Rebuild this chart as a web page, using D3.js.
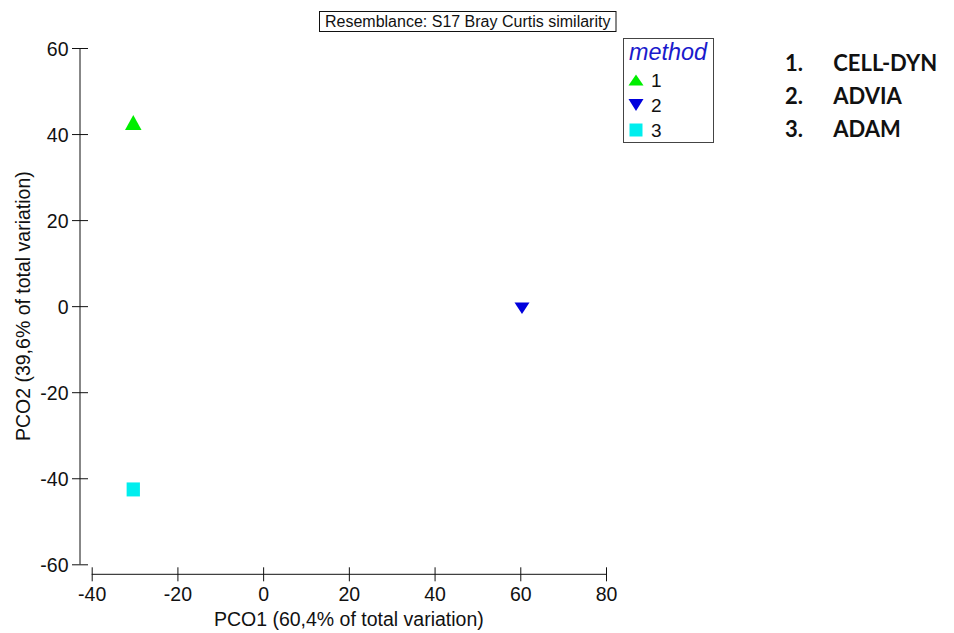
<!DOCTYPE html>
<html>
<head>
<meta charset="utf-8">
<script src="https://cdn.jsdelivr.net/npm/d3@7"></script>
<style>
  body { margin: 0; background: #fff; }
  svg { display: block; }
</style>
</head>
<body>
<script>
// data
var methods = ["1", "2", "3"];
var pco1 = [-30.3, 60.4, -30.3];
var pco2 = [42.7, -0.5, -42.6];
var methodColors = ["#00ee00", "#0000dd", "#00eeee"];
var methodShapes = ["up", "down", "square"];
var xTicks = [-40, -20, 0, 20, 40, 60, 80];
var yTicks = [-60, -40, -20, 0, 20, 40, 60];
var methodNames = ["CELL-DYN", "ADVIA", "ADAM"];

var width = 954;
var height = 633;
var font = "'Liberation Sans', Arial, sans-serif";

var svg = d3.select("body").append("svg")
    .attr("width", width)
    .attr("height", height);

//scales
var x = d3.scaleLinear().domain([-40, 80]).range([91.7, 606]);
var y = d3.scaleLinear().domain([-60, 60]).range([564.3, 48]);

// plain hyphen for negatives, like the original
var plain = function(d) { return String(d); };

// marker shapes, centred on their box
function shape(type, w, h) {
    if (type == "up") return "M0," + (-h / 2) + "L" + (w / 2) + "," + (h / 2) + "L" + (-w / 2) + "," + (h / 2) + "Z";
    if (type == "down") return "M0," + (h / 2) + "L" + (w / 2) + "," + (-h / 2) + "L" + (-w / 2) + "," + (-h / 2) + "Z";
    return "M" + (-w / 2) + "," + (-h / 2) + "h" + w + "v" + h + "h" + (-w) + "Z";
}
var markerSize = { up: [16.5, 15], down: [15, 11.6], square: [13.3, 14] };
var legendSize = { up: [15, 11], down: [15, 12], square: [13, 13] };

// y axis
var yAxis = svg.append("g")
    .attr("transform", "translate(80,0)")
    .call(d3.axisLeft(y).tickValues(yTicks).tickFormat(plain).tickSizeOuter(0).tickSize(8));
yAxis.select(".domain").attr("d", "M0," + y(60) + "V" + y(-60)).attr("stroke", "#111");
yAxis.selectAll(".tick line").attr("x1", -8).attr("x2", 8).attr("stroke", "#111");
yAxis.selectAll(".tick text")
    .attr("x", -11.5).attr("dy", "0.36em")
    .style("font-family", font).style("font-size", "19.5px").attr("fill", "#111");

// x axis
var xAxis = svg.append("g")
    .attr("transform", "translate(0,574.3)")
    .call(d3.axisBottom(x).tickValues(xTicks).tickFormat(plain).tickSizeOuter(0).tickSize(7));
xAxis.select(".domain").attr("d", "M" + x(-40) + ",0H" + x(80)).attr("stroke", "#111");
xAxis.selectAll(".tick line").attr("y1", -7).attr("y2", 7).attr("stroke", "#111");
xAxis.selectAll(".tick text")
    .attr("y", 26.7).attr("dy", null)
    .style("font-family", font).style("font-size", "19.5px").attr("fill", "#111");

// axis titles
svg.append("text")
    .attr("x", (x(-40) + x(80)) / 2).attr("y", 625.7)
    .attr("text-anchor", "middle")
    .style("font-family", font).style("font-size", "19.5px").attr("fill", "#111")
    .text("PCO1 (60,4% of total variation)");

svg.append("text")
    .attr("transform", "translate(29.5," + y(0) + ") rotate(-90)")
    .attr("text-anchor", "middle")
    .style("font-family", font).style("font-size", "19.5px").attr("fill", "#111")
    .text("PCO2 (39,6% of total variation)");

// title box
svg.append("rect")
    .attr("x", 319.5).attr("y", 11.5).attr("width", 296.5).attr("height", 20)
    .attr("fill", "#fff").attr("stroke", "#111");
svg.append("text")
    .attr("x", 467.7).attr("y", 26.5)
    .attr("text-anchor", "middle")
    .style("font-family", font).style("font-size", "16px").attr("fill", "#111")
    .text("Resemblance: S17 Bray Curtis similarity");

// points
svg.selectAll("path.pt")
    .data(methods)
    .enter()
    .append("path")
    .attr("class", "pt")
    .attr("transform", function(d, i) { return "translate(" + x(pco1[i]) + "," + y(pco2[i]) + ")"; })
    .attr("d", function(d, i) { var s = markerSize[methodShapes[i]]; return shape(methodShapes[i], s[0], s[1]); })
    .attr("fill", function(d, i) { return methodColors[i]; });

// legend
var legend = svg.append("g");
legend.append("rect")
    .attr("x", 623.5).attr("y", 38.5).attr("width", 90).attr("height", 104)
    .attr("fill", "#fff").attr("stroke", "#444");
legend.append("text")
    .attr("x", 629).attr("y", 60)
    .style("font-family", font).style("font-size", "23.4px").style("font-style", "italic")
    .attr("fill", "#1a1acc")
    .text("method");
var rows = legend.selectAll("g.row")
    .data(methods)
    .enter()
    .append("g")
    .attr("class", "row")
    .attr("transform", function(d, i) { return "translate(0," + (80 + i * 25) + ")"; });
rows.append("path")
    .attr("transform", "translate(636,0)")
    .attr("d", function(d, i) { var s = legendSize[methodShapes[i]]; return shape(methodShapes[i], s[0], s[1]); })
    .attr("fill", function(d, i) { return methodColors[i]; });
rows.append("text")
    .attr("x", 651).attr("y", 6.5)
    .style("font-family", font).style("font-size", "19px").attr("fill", "#111")
    .text(function(d) { return d; });

// method names
var names = svg.selectAll("g.name")
    .data(methodNames)
    .enter()
    .append("g")
    .attr("class", "name")
    .attr("transform", function(d, i) { return "translate(0," + (70.7 + i * 33.3) + ")"; });
names.append("text")
    .attr("x", 785)
    .style("font-family", "Lato, sans-serif").style("font-size", "22px").style("font-weight", "bold")
    .attr("fill", "#111")
    .text(function(d, i) { return (i + 1) + "."; });
names.append("text")
    .attr("x", 833.3)
    .style("font-family", "Lato, sans-serif").style("font-size", "22px").style("font-weight", "bold")
    .attr("fill", "#111")
    .text(function(d) { return d; });
</script>
</body>
</html>
